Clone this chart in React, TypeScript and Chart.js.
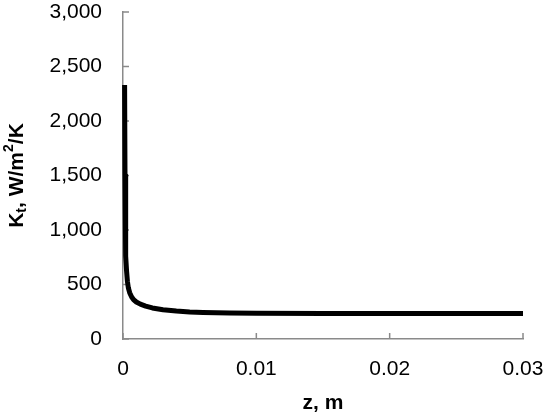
import React, { useEffect, useRef } from "react";
import { Chart, registerables } from "chart.js";

Chart.register(...registerables);

const zValues = [0.00012, 0.00015, 0.00018, 0.00022, 0.00027, 0.00033, 0.0004, 0.0005, 0.00065, 0.0008, 0.001, 0.0013, 0.0017, 0.0022, 0.003, 0.004, 0.005, 0.006, 0.008, 0.01, 0.015, 0.02, 0.03];
const ktValues = [2330, 1500, 1000, 760, 620, 530, 470, 425, 385, 360, 340, 320, 302, 285, 268, 256, 248, 244, 238, 236, 235, 234, 234];
const xTicks = [0, 0.01, 0.02, 0.03];
const yTicks = [0, 500, 1000, 1500, 2000, 2500, 3000];
const xTitle = "z, m";
const yTitleParts = { main: "K", sub: "t", mid: ", W/m", sup: "2", end: "/K" };

const AXIS_COLOR = "#8a8a8a";
const FONT = "'Liberation Sans', Arial, sans-serif";

const decorPlugin = {
  id: "decor",
  beforeDatasetsDraw(chart: any) {
    const ctx = chart.ctx;
    const area = chart.chartArea;
    const xs = chart.scales.x;
    const ys = chart.scales.y;
    ctx.save();
    ctx.strokeStyle = AXIS_COLOR;
    ctx.lineWidth = 1.5;
    yTicks.forEach((v) => {
      const p = ys.getPixelForValue(v);
      ctx.beginPath();
      ctx.moveTo(area.left, p);
      ctx.lineTo(area.left + 6, p);
      ctx.stroke();
    });
    xTicks.forEach((v) => {
      const p = xs.getPixelForValue(v);
      ctx.beginPath();
      ctx.moveTo(p, area.bottom);
      ctx.lineTo(p, area.bottom - 6);
      ctx.stroke();
    });
    ctx.restore();
  },
  afterDraw(chart: any) {
    const ctx = chart.ctx;
    const area = chart.chartArea;
    ctx.save();
    // x title
    ctx.fillStyle = "#000";
    ctx.font = `bold 21px ${FONT}`;
    ctx.textAlign = "center";
    ctx.textBaseline = "middle";
    ctx.fillText(xTitle, (area.left + area.right) / 2, 403);
    // y title (rotated, with subscript/superscript)
    const big = `bold 21px ${FONT}`;
    const small = `bold 14px ${FONT}`;
    const parts = [
      { t: yTitleParts.main, f: big, dy: 0 },
      { t: yTitleParts.sub, f: small, dy: 5 },
      { t: yTitleParts.mid, f: big, dy: 0 },
      { t: yTitleParts.sup, f: small, dy: -8 },
      { t: yTitleParts.end, f: big, dy: 0 },
    ];
    let total = 0;
    parts.forEach((p) => {
      ctx.font = p.f;
      total += ctx.measureText(p.t).width;
    });
    ctx.translate(17, (area.top + area.bottom) / 2);
    ctx.rotate(-Math.PI / 2);
    ctx.textAlign = "left";
    ctx.textBaseline = "middle";
    let x = -total / 2;
    parts.forEach((p) => {
      ctx.font = p.f;
      ctx.fillText(p.t, x, p.dy);
      x += ctx.measureText(p.t).width;
    });
    ctx.restore();
  },
};

const zeroPad = (s: any) => {
  s.paddingTop = 0;
  s.paddingBottom = 0;
  s.paddingLeft = 0;
  s.paddingRight = 0;
};

export default function App() {
  const ref = useRef<HTMLCanvasElement>(null);
  useEffect(() => {
    const canvas = ref.current;
    if (!canvas) return;
    const chart = new Chart(canvas, {
      type: "line",
      data: {
        datasets: [
          {
            data: zValues.map((z, i) => ({ x: z, y: ktValues[i] })),
            borderColor: "#000",
            borderWidth: 5,
            borderJoinStyle: "round",
            pointRadius: 0,
            fill: false,
            clip: false,
            tension: 0,
          },
        ],
      },
      options: {
        animation: false,
        responsive: false,
        maintainAspectRatio: false,
        layout: { padding: { left: 0, top: 12, right: 27, bottom: 0 } },
        plugins: { legend: { display: false }, tooltip: { enabled: false } },
        scales: {
          x: {
            type: "linear",
            min: 0,
            max: 0.03,
            afterFit: (s: any) => {
              s.height = 78;
              zeroPad(s);
            },
            afterBuildTicks: (s: any) => {
              s.ticks = xTicks.map((v) => ({ value: v }));
            },
            ticks: {
              font: { family: FONT, size: 21 },
              color: "#000",
              padding: 18,
              maxRotation: 0,
              callback: (v: any) => (v === 0 ? "0" : Number(v).toFixed(2)),
            },
            grid: { display: false, drawTicks: false },
            border: { display: true, color: AXIS_COLOR, width: 1.5 },
          },
          y: {
            type: "linear",
            min: 0,
            max: 3000,
            afterFit: (s: any) => {
              s.width = 123;
              zeroPad(s);
            },
            afterBuildTicks: (s: any) => {
              s.ticks = yTicks.map((v) => ({ value: v }));
            },
            ticks: {
              font: { family: FONT, size: 21 },
              color: "#000",
              padding: 21,
              callback: (v: any) => Number(v).toLocaleString("en-US"),
            },
            grid: { display: false, drawTicks: false },
            border: { display: true, color: AXIS_COLOR, width: 1.5 },
          },
        },
      },
      plugins: [decorPlugin],
    } as any);
    return () => chart.destroy();
  }, []);
  return (
    <div style={{ position: "fixed", left: 0, top: 0, width: 550, height: 417, background: "#fff" }}>
      <canvas ref={ref} width={550} height={417} style={{ width: 550, height: 417 }} />
    </div>
  );
}
